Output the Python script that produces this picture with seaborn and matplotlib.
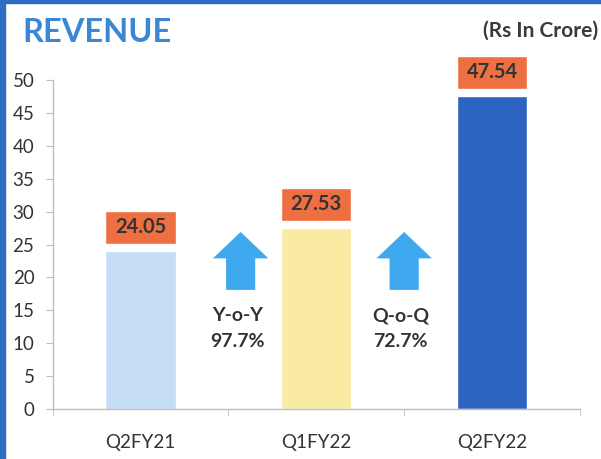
import matplotlib
matplotlib.use("Agg")
import matplotlib.pyplot as plt
import seaborn as sns
import pandas as pd
from matplotlib.patches import Rectangle

# dados do gráfico
trimestres = ["Q2FY21", "Q1FY22", "Q2FY22"]
receita = [24.05, 27.53, 47.54]
cores_barras = ["#C6DDF6", "#F9EBA3", "#2E64C1"]
crescimento_rotulos = ["Y-o-Y\n97.7%", "Q-o-Q\n72.7%"]
crescimento_pos = [0.57, 1.5]  # posição x das setas (entre as barras)

sns.set_style("white")
plt.rcParams["font.family"] = ["Lato", "DejaVu Sans"]

df = pd.DataFrame({"trimestre": trimestres, "receita": receita})

fig = plt.figure(figsize=(6.01, 4.59), dpi=100)
ax = fig.add_axes([52.5 / 601, 50 / 459, 527.5 / 601, 329 / 459])

sns.barplot(data=df, x="trimestre", y="receita", hue="trimestre",
            palette=cores_barras, width=0.4, legend=False, ax=ax, saturation=1)

# caixas laranja com os valores acima das barras
ax.bar(range(len(receita)), 5.0, width=0.4, bottom=[v + 1.1 for v in receita],
       color="#EE6F42", clip_on=False, zorder=3)
for i, v in enumerate(receita):
    ax.text(i, v + 3.6, f"{v:.2f}", ha="center", va="center", fontsize=14.5,
            fontweight="bold", color="#333333", zorder=4, clip_on=False)

# setas de crescimento
for x, rotulo in zip(crescimento_pos, crescimento_rotulos):
    ax.annotate("", xy=(x, 26.9), xytext=(x, 18.1),
                arrowprops=dict(arrowstyle="simple,head_length=19,head_width=40,tail_width=21",
                                mutation_scale=1, color="#3FA9F0",
                                shrinkA=0, shrinkB=0, lw=0))
    ax.text(x - 0.02, 12.2, rotulo, ha="center", va="center", fontsize=14,
            fontweight="bold", color="#333333", linespacing=1.65)

ax.set_ylim(0, 50)
ax.set_xlim(-0.5, 2.5)
ax.set_yticks(range(0, 51, 5))
ax.set_xlabel("")
ax.set_ylabel("")

for lado in ["top", "right"]:
    ax.spines[lado].set_visible(False)
for lado in ["left", "bottom"]:
    ax.spines[lado].set_color("#BFBFBF")
    ax.spines[lado].set_linewidth(1)

ax.tick_params(axis="y", left=True, length=5, color="#BFBFBF", labelsize=13.5,
               labelcolor="#333333", pad=8)
ax.tick_params(axis="x", which="major", length=0, labelsize=13.5,
               labelcolor="#333333", pad=18)
ax.set_xticks([-0.5, 0.5, 1.5, 2.5], minor=True)
ax.tick_params(axis="x", which="minor", bottom=True, length=5, color="#BFBFBF")

# títulos
fig.text(22 / 601, 1 - 32 / 459, "REVENUE", fontsize=23.5, fontweight="bold",
         color="#3A87D6", va="center", ha="left")
fig.text(598 / 601, 1 - 31 / 459, "(Rs In Crore)", fontsize=15, fontweight="bold",
         color="#3A3A3A", va="center", ha="right")

# moldura azul (esquerda e topo)
fig.patches.append(Rectangle((0, 0), 5 / 601, 1, transform=fig.transFigure,
                             color="#2F6DC2", zorder=0))
fig.patches.append(Rectangle((0, 1 - 3 / 459), 1, 3 / 459, transform=fig.transFigure,
                             color="#2F6DC2", zorder=0))

fig.savefig("out.png", dpi=100)
